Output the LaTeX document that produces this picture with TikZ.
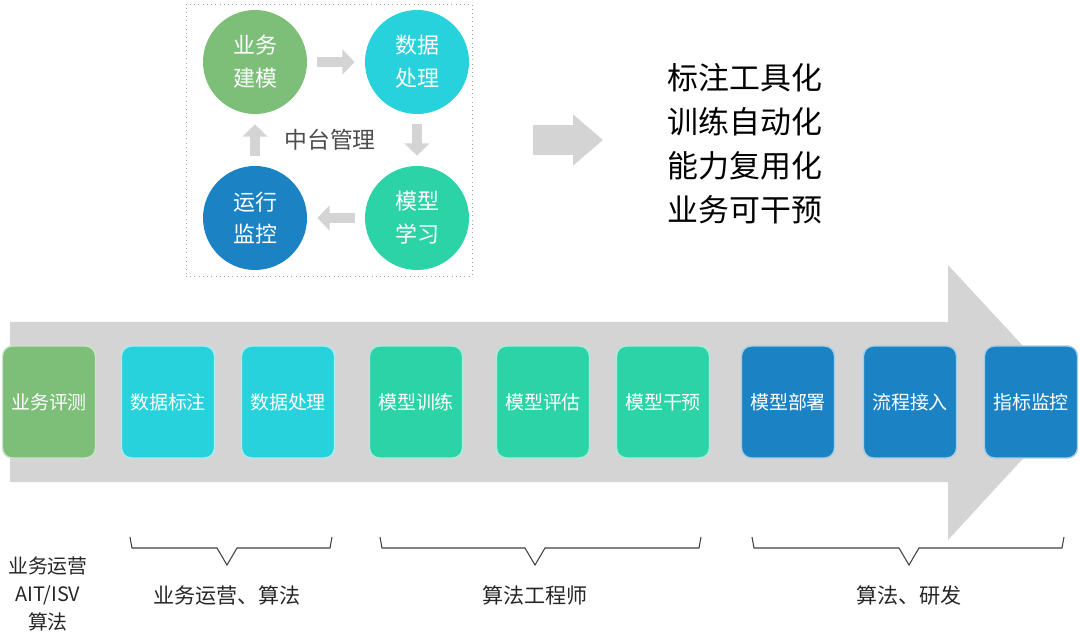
\documentclass[tikz,border=0pt]{standalone}
\usepackage{fontspec}
\setmainfont{Noto Sans CJK SC}
\usetikzlibrary{arrows.meta}
\definecolor{cgreen}{HTML}{7DBF79}
\definecolor{ccyan}{HTML}{27D2DC}
\definecolor{cteal}{HTML}{2CD3A6}
\definecolor{cblue}{HTML}{1B83C4}
\definecolor{lgray}{HTML}{D4D4D4}
\tikzset{circ/.style={circle,fill=#1,minimum size=2.08cm,inner sep=0pt,text=white,align=center,font=\fontsize{12.5}{18.7}\selectfont},
 stage/.style={draw=#1!40!white,fill=#1,line width=.8pt,rounded corners=.2cm,minimum width=1.86cm,minimum height=2.24cm,text=white,font=\fontsize{10.8}{13}\selectfont},
 panel/.style={draw=gray!70,dotted,minimum width=5.72cm,minimum height=5.44cm},
 garrow/.style={draw=lgray,line width=5.6pt,-{Triangle[width=14pt,length=7pt]},shorten <=.2cm,shorten >=.2cm},
 bigarrow/.style={draw=lgray,line width=17pt,-{Triangle[width=28pt,length=17pt]},shorten <=1.22cm,shorten >=1.28cm},
 brk/.style={draw=black!75,line width=.6pt},
 role/.style={font=\fontsize{12}{14}\selectfont,text=black!85,align=center}}

\begin{document}
\begin{tikzpicture}[x=0.02cm,y=-0.02cm]
\useasboundingbox (0,0) rectangle (1080,635);
% loop of the platform
\node[panel] (frame) at (329,140) {};
\node[circ=cgreen] (bm) at (255,62) {业务\\建模};\node[circ=ccyan] (sj) at (417,62) {数据\\处理};
\node[circ=cblue] (yk) at (255,218) {运行\\监控};\node[circ=cteal] (mx) at (417,218) {模型\\学习};
\node[text=black!70,font=\fontsize{13}{15}\selectfont] (mid) at (330,140) {中台管理};
\foreach \a/\b in {bm/sj,sj/mx,mx/yk,yk/bm}
 {\draw[garrow](\a)--(\b);}
\node[anchor=west,inner sep=0pt,align=left,font=\fontsize{17.6}{25}\selectfont] (goals) at (667,144)
 {标注工具化\\训练自动化\\能力复用化\\业务可干预};
\draw[bigarrow] (frame.east) -- (frame.east -| goals.west);
% timeline
\fill[lgray] (10,322) -- (948,322) -- (948,265) -- (1075,402) -- (948,540) -- (948,482) -- (10,482) -- cycle;
\foreach \n/\x/\c/\t in {s1/49/cgreen/业务评测,s2/168/ccyan/数据标注,s3/288/ccyan/数据处理,
 s4/416/cteal/模型训练,s5/543/cteal/模型评估,s6/663/cteal/模型干预,
 s7/788/cblue/模型部署,s8/910/cblue/流程接入,s9/1031/cblue/指标监控}
 {\node[stage=\c] (\n) at (\x,402) {\t};}
% roles
\node[role,font=\fontsize{11.3}{15.9}\selectfont] (r0) at (48,594) {业务运营\\AIT/ISV\\算法};
\foreach \a/\b/\c/\t [count=\i] in {130/332/227/业务运营、算法,380/701/535/算法工程师,752/1064/909/算法、研发}{
 \draw[brk] (\a,537) -- (\a+2,548) -- (\c-10,548) -- (\c,565) -- (\c+10,548) -- (\b-2,548) -- (\b,537);
 \node[role] (r\i) at (\c,595) {\t};}
\end{tikzpicture}
\end{document}
